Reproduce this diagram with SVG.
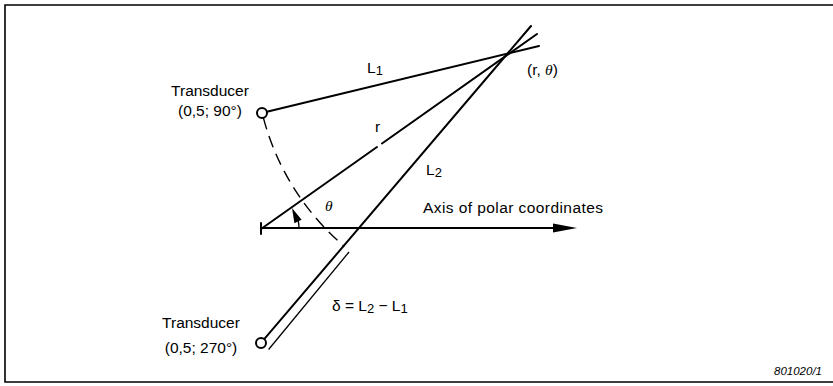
<svg xmlns="http://www.w3.org/2000/svg" width="833" height="386" viewBox="0 0 833 386">
  <style>
    .t { font-family: "Liberation Sans", Arial, sans-serif; font-size: 15.5px; fill: #000; }
    .g { font-family: "Liberation Serif", "Times New Roman", serif; font-style: italic; }
    .ln { stroke: #000; stroke-width: 2; fill: none; stroke-linecap: round; }
    .thin { stroke: #000; stroke-width: 1.3; fill: none; }
    .dash { stroke: #000; stroke-width: 1.4; fill: none; stroke-dasharray: 12 7; }
    .xd { fill: #fff; stroke: #000; stroke-width: 2; }
  </style>
  <rect width="833" height="386" fill="#fff"/>
  <path id="frame" d="M833,5 H5 V382 H833" fill="none" stroke="#000" stroke-width="1.6"/>

  <g id="connectors">
    <line id="L1" class="ln" x1="266.9" y1="111.8" x2="539" y2="46"/>
    <line id="L2" class="ln" x1="264.2" y1="339.2" x2="531" y2="26"/>
    <line id="r-a" class="ln" x1="261" y1="229" x2="377" y2="147"/>
    <line id="r-b" class="ln" x1="382" y1="143.5" x2="537" y2="34"/>
    <line id="axis" class="ln" x1="261" y1="228" x2="556" y2="228"/>
    <polygon id="axis-head" points="577,228 553,223.5 553,232.5" fill="#000"/>
    <line id="origin-tick" class="ln" x1="261" y1="223" x2="261" y2="234"/>
    <path id="theta-arc" class="thin" d="M299,228 A38,38 0 0 0 298.2,220.5"/>
    <polygon id="theta-head" points="292,208 301.6,219.8 294.4,223.2" fill="#000"/>
    <path id="L1-arc" class="dash" d="M263.4,117.9 A254,254 0 0 0 344.3,246.4"/>
    <line id="delta" class="thin" x1="268.6" y1="349.5" x2="349" y2="252"/>
  </g>

  <g id="transducer-top">
    <circle class="xd" cx="262" cy="113" r="5"/>
    <text class="t" x="210" y="96" text-anchor="middle">Transducer</text>
    <text class="t" x="210" y="116" text-anchor="middle">(0,5; 90°)</text>
  </g>

  <g id="transducer-bottom">
    <circle class="xd" cx="261" cy="343" r="5"/>
    <text class="t" x="201" y="328" text-anchor="middle">Transducer</text>
    <text class="t" x="201" y="353" text-anchor="middle">(0,5; 270°)</text>
  </g>

  <g id="point-r-theta">
    <text class="t" x="527" y="75">(r, <tspan class="g">θ</tspan>)</text>
  </g>

  <g id="labels">
    <text class="t" x="367" y="73">L<tspan font-size="13" dy="2">1</tspan></text>
    <text class="t" x="375" y="132">r</text>
    <text class="t" x="426" y="175">L<tspan font-size="13" dy="2">2</tspan></text>
    <text class="t g" x="325" y="211">θ</text>
    <text class="t" x="423" y="213" textLength="180" lengthAdjust="spacing">Axis of polar coordinates</text>
    <text class="t" x="332" y="311">δ = L<tspan font-size="13" dy="2">2</tspan><tspan dy="-2"> − L</tspan><tspan font-size="13" dy="2">1</tspan></text>
    <text x="822" y="375" text-anchor="end" font-family="Liberation Sans, Arial, sans-serif" font-size="11.5" font-style="italic">801020/1</text>
  </g>
</svg>
